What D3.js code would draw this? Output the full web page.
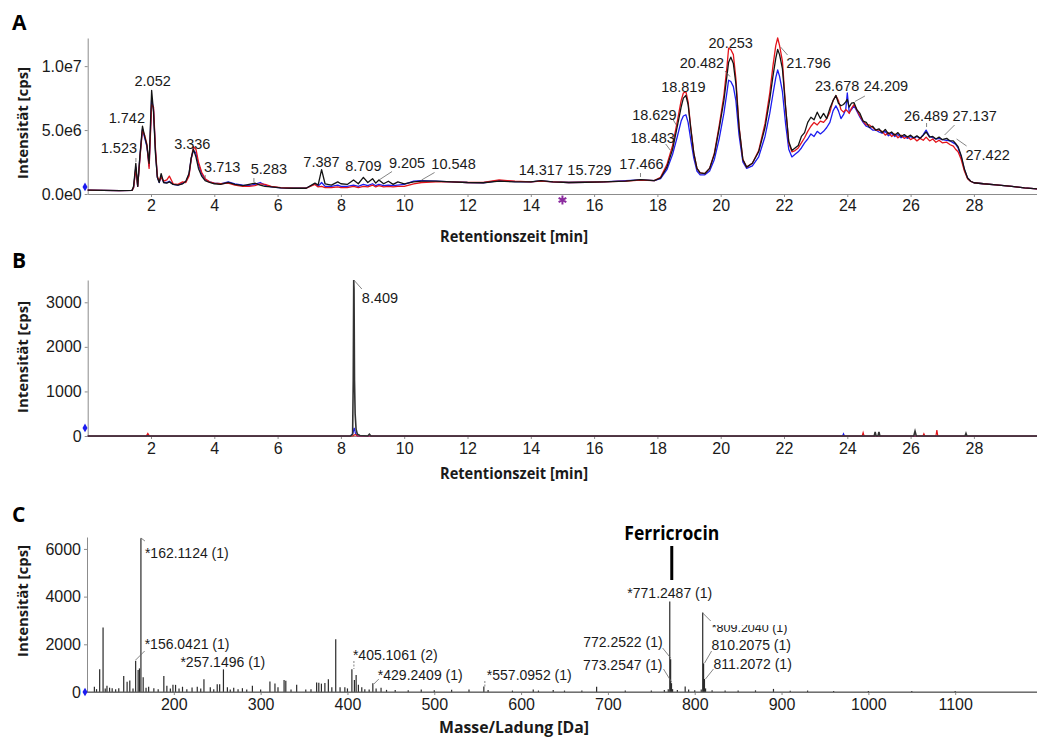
<!DOCTYPE html>
<html><head><meta charset="utf-8">
<script src="https://cdn.jsdelivr.net/npm/d3@7"></script>
<style>body{margin:0;background:#fff} svg{display:block}</style>
</head><body>
<svg id="c" width="1037" height="739"></svg>
<script>
// ---------------- DATA ----------------
// Panel A: total ion chromatogram, intensities in units of 1e6 cps
const aTime = [
0, 0.5, 1.0, 1.4, 1.45, 1.52, 1.58, 1.65, 1.73, 1.8, 1.87, 1.94,
2.02, 2.08, 2.14, 2.2, 2.26, 2.32, 2.4, 2.5, 2.58, 2.7, 2.85, 3.0,
3.1, 3.2, 3.27, 3.34, 3.42, 3.5, 3.6, 3.71, 3.85, 4.0, 4.2,
4.44, 4.65, 4.9, 5.1, 5.28, 5.45, 5.6, 5.8, 6.1, 6.5, 6.9,
7.18, 7.28, 7.39, 7.5, 7.7, 7.9, 8.0, 8.2, 8.4, 8.55,
8.71, 8.85, 9.0, 9.1, 9.2, 9.35, 9.5, 9.65, 9.8, 10.0, 10.3, 10.55,
11.0, 11.5, 12.0, 12.5, 13.0, 13.5, 14.0, 14.32, 14.7, 15.2, 15.73, 16.3, 17.0, 17.47, 17.9,
18.1, 18.3, 18.48, 18.63, 18.75, 18.82, 18.9, 18.97, 19.05, 19.15, 19.25, 19.35,
19.5, 19.65, 19.8, 19.95, 20.1, 20.2, 20.25, 20.32, 20.4, 20.48, 20.58, 20.7, 20.82,
21.0, 21.2, 21.4, 21.55, 21.65, 21.74, 21.8, 21.86, 21.95, 22.05,
22.15, 22.25, 22.35, 22.45, 22.55, 22.65, 22.75, 22.85, 22.95, 23.05, 23.15,
23.25, 23.35, 23.45, 23.55, 23.64, 23.72, 23.8, 23.88, 23.95, 24.0,
24.06, 24.13, 24.21, 24.3, 24.4, 24.5, 24.6, 24.7, 24.8, 24.9, 25.0,
25.1, 25.2, 25.3, 25.4, 25.5, 25.6, 25.7, 25.8, 25.9, 26.0,
26.1, 26.2, 26.3, 26.4, 26.49, 26.6, 26.7, 26.8, 26.9, 27.0,
27.14, 27.25, 27.35, 27.42, 27.5, 27.6, 27.7, 27.8, 27.9, 28.0,
28.3, 28.7, 29.2, 29.6, 30.0
];
const aBlack = [
0.30, 0.28, 0.26, 0.28, 0.6, 2.4, 0.6, 3.0, 5.3, 4.5, 3.8, 2.4,
8.1, 6.4, 3.2, 1.3, 0.9, 1.6, 0.9, 0.85, 0.95, 0.75, 0.7, 0.8,
1.0, 1.6, 2.8, 3.5, 2.9, 2.0, 1.4, 1.05, 0.9, 0.8, 0.75,
0.9, 0.75, 0.65, 0.75, 0.85, 0.7, 0.6, 0.55, 0.48, 0.45, 0.45,
0.85, 0.7, 1.9, 0.8, 0.7, 0.95, 0.8, 0.75, 1.1, 0.8,
1.3, 0.9, 1.2, 0.85, 1.1, 0.8, 1.0, 0.75, 0.95, 0.8, 0.95, 1.0,
1.0, 0.95, 0.9, 0.88, 1.0, 0.95, 0.95, 1.05, 0.95, 0.9, 0.92, 0.95, 1.0, 1.12, 1.05,
1.25, 2.1, 3.5, 5.3, 6.8, 7.5, 7.7, 7.0, 5.2, 3.2, 2.0, 1.65,
1.6, 2.0, 3.1, 5.1, 7.3, 9.3, 10.3, 10.7, 10.2, 8.6, 5.2, 2.7, 2.1,
2.4, 3.3, 5.2, 7.4, 9.2, 10.6, 11.3, 10.9, 9.8, 6.8,
4.1, 3.4, 3.6, 3.8, 4.5, 4.8, 5.6, 6.0, 5.8, 6.4, 5.9,
6.3, 5.9, 6.7, 7.3, 7.7, 7.1, 6.9, 7.0, 7.2, 7.4,
6.8, 7.1, 7.15, 6.6, 6.3, 5.7, 5.6, 5.2, 5.3, 5.0, 5.1,
4.8, 5.05, 4.7, 4.85, 4.6, 4.8, 4.5, 4.65, 4.45, 4.6,
4.4, 4.55, 4.35, 4.6, 4.85, 4.45, 4.5, 4.3, 4.45, 4.25,
4.35, 4.15, 4.15, 3.95, 3.7, 3.0, 1.95, 1.25, 1.0, 0.88,
0.8, 0.72, 0.6, 0.48, 0.4
];
const aRed = [
0.30, 0.28, 0.26, 0.28, 0.5, 2.0, 0.6, 2.8, 5.0, 4.6, 3.9, 2.0,
7.0, 6.8, 3.6, 1.4, 1.0, 1.3, 1.0, 1.1, 1.4, 0.8, 0.75, 0.95,
0.9, 1.4, 2.7, 3.7, 3.5, 2.5, 1.7, 1.2, 0.95, 0.85, 0.8,
0.85, 0.7, 0.6, 0.6, 0.65, 0.8, 0.75, 0.6, 0.5, 0.45, 0.45,
0.75, 0.55, 0.6, 0.5, 0.5, 0.55, 0.5, 0.5, 0.6, 0.5,
0.6, 0.55, 0.7, 0.55, 0.65, 0.55, 0.6, 0.55, 0.6, 0.6, 0.8, 0.9,
0.95, 0.95, 0.9, 0.9, 1.1, 1.0, 0.95, 1.0, 0.95, 0.9, 0.92, 0.95, 1.0, 1.08, 1.05,
1.3, 2.3, 3.8, 5.7, 7.3, 7.9, 8.0, 7.2, 5.3, 3.2, 2.0, 1.65,
1.6, 2.0, 3.2, 5.3, 7.7, 10.0, 11.4, 11.3, 10.9, 9.0, 5.3, 2.7, 2.1,
2.4, 3.4, 5.5, 7.9, 10.0, 11.6, 12.2, 11.6, 10.4, 6.8,
4.0, 3.3, 3.4, 3.6, 4.0, 4.4, 4.9, 5.3, 5.6, 5.4, 5.7,
5.6, 5.9, 6.4, 7.3, 7.7, 7.3, 6.6, 6.4, 6.6, 6.5,
6.3, 6.7, 7.0, 6.6, 6.1, 5.7, 5.4, 5.4, 5.2, 5.0, 5.0,
4.9, 4.6, 4.8, 4.5, 4.7, 4.4, 4.6, 4.35, 4.5, 4.25,
4.4, 4.15, 4.35, 4.2, 4.45, 4.15, 4.3, 4.05, 4.2, 4.0,
4.05, 3.85, 3.75, 3.5, 3.3, 2.7, 1.8, 1.2, 0.98, 0.88,
0.8, 0.72, 0.6, 0.48, 0.4
];
const aBlue = [
0.30, 0.28, 0.26, 0.28, 0.5, 2.1, 0.6, 2.9, 5.1, 4.4, 3.7, 2.2,
7.4, 6.6, 3.4, 1.3, 0.9, 1.4, 0.9, 0.9, 1.0, 0.75, 0.7, 0.85,
0.95, 1.5, 2.8, 3.4, 3.2, 2.3, 1.6, 1.15, 0.95, 0.85, 0.8,
0.95, 0.8, 0.7, 0.65, 0.75, 0.9, 0.7, 0.55, 0.48, 0.45, 0.45,
0.8, 0.6, 0.9, 0.6, 0.6, 0.7, 0.6, 0.6, 0.7, 0.6,
0.75, 0.65, 0.8, 0.65, 0.75, 0.65, 0.7, 0.65, 0.7, 0.75, 1.0, 1.05,
1.0, 0.95, 0.9, 0.88, 1.05, 0.97, 0.95, 1.02, 0.95, 0.9, 0.92, 0.95, 1.05, 1.1, 1.05,
1.2, 1.9, 3.1, 4.5, 5.7, 6.1, 6.2, 5.6, 4.3, 2.8, 1.8, 1.5,
1.5, 1.8, 2.7, 4.3, 6.3, 8.0, 8.9, 8.8, 8.4, 7.3, 4.6, 2.5, 2.0,
2.2, 2.9, 4.5, 6.3, 7.8, 9.1, 9.7, 9.2, 8.0, 5.5,
3.5, 2.9, 3.1, 3.3, 3.6, 4.0, 4.3, 4.7, 4.5, 4.9, 4.7,
4.9, 5.2, 5.6, 6.5, 6.9, 6.5, 5.9, 6.2, 6.6, 7.9,
6.4, 6.6, 6.9, 6.5, 6.0, 5.6, 5.3, 5.2, 5.0, 5.0, 4.85,
4.75, 4.9, 4.55, 4.75, 4.5, 4.65, 4.4, 4.55, 4.35, 4.5,
4.35, 4.5, 4.35, 4.65, 5.0, 4.5, 4.4, 4.3, 4.35, 4.25,
4.2, 4.15, 4.0, 3.9, 3.6, 2.9, 1.9, 1.25, 1.0, 0.88,
0.8, 0.72, 0.6, 0.48, 0.4
];
const aPeakLabels = ["1.523","1.742","2.052","3.336","3.713","5.283","7.387","8.709","9.205","10.548",
  "14.317","15.729","17.466","18.483","18.629","18.819","20.253","20.482","21.796","23.678","24.209",
  "26.489","27.137","27.422"];
const aYTickValues = [0, 5, 10];
const aYTickLabels = ["0.0e0", "5.0e6", "1.0e7"];
const timeTicks = [2,4,6,8,10,12,14,16,18,20,22,24,26,28];

// Panel B: extracted ion chromatogram (cps)
const bBlackT = [0, 8.3, 8.37, 8.39, 8.405, 8.415, 8.43, 8.45, 8.48, 8.52, 8.6, 8.85, 8.9, 8.95, 24.85, 24.88, 24.91, 24.97, 25.0, 25.03, 26.1, 26.14, 26.18, 27.72, 27.75, 27.78, 30];
const bBlackV = [0, 0, 30, 1250, 3500, 3300, 1250, 500, 150, 40, 10, 0, 40, 0, 0, 90, 0, 0, 90, 0, 0, 110, 0, 0, 60, 0, 0];
const bBlueT = [0, 1.85, 1.9, 1.95, 8.3, 8.38, 8.42, 8.46, 8.52, 23.85, 23.88, 23.91, 30];
const bBlueV = [0, 0, 20, 0, 0, 60, 180, 60, 0, 0, 50, 0, 0];
const bRedT = [0, 1.85, 1.9, 1.95, 8.38, 8.45, 8.52, 24.47, 24.5, 24.53, 26.39, 26.42, 26.45, 26.8, 26.83, 26.86, 30];
const bRedV = [0, 0, 60, 0, 0, 35, 0, 0, 75, 0, 0, 50, 0, 0, 130, 0, 0];
const bPeakLabels = ["8.409"];
const bYTicks = [0, 1000, 2000, 3000];

// Panel C: mass spectrum (m/z, cps)
const cMz = [108.5,111,114.6,118.5,121,123,126,129,133,136.6,142.3,146.2,149.3,153,156.04,158.9,160.4,162.11,164.7,168,
171,177,182,188.5,192,196,199,202,206,210,215,221,227,231,234.7,242,246,250,252.8,257.15,
261.7,265,269,274,279,284,290.5,300,310.7,316.5,320,327,329,335,341.5,352,358,364.5,367,370,
374,378,382,386.5,391.5,397,400,405.11,408,410,412.6,416.5,420,425,429.24,433,438.7,445,455,470,
485,500,520,540,557.1,562,590,614,620,637,650,670,687,720,750,765,769.5,771.25,772.25,773.25,
774.5,780,789,793,800,807.5,809.2,810.21,811.21,812.5,820,835,850,870,890.7,910,930,960,1000,1050,1100];
const cInt = [220,120,950,2700,150,260,180,160,120,160,670,430,480,150,1310,920,990,6450,620,180,
220,160,120,670,260,150,300,300,150,220,120,190,220,150,530,200,120,330,330,950,
200,110,180,120,160,100,260,100,440,360,200,500,470,100,300,100,120,400,390,350,
380,530,200,2210,200,200,150,950,500,710,300,200,120,100,370,150,180,90,80,70,
110,70,90,110,230,80,60,100,60,80,60,60,220,60,60,80,120,3790,1370,370,
120,80,230,110,70,100,3330,1200,545,150,70,60,60,70,130,50,60,40,40,40,40];
const cPeakLabels = ["*162.1124 (1)","*156.0421 (1)","*257.1496 (1)","*405.1061 (2)","*429.2409 (1)","*557.0952 (1)",
  "*771.2487 (1)","772.2522 (1)","773.2547 (1)","*809.2040 (1)","810.2075 (1)","811.2072 (1)"];
const cPeakMz = [162.11,156.04,257.15,405.11,429.24,557.1,771.25,772.25,773.25,809.2,810.21,811.21];
const cXTicks = [200,300,400,500,600,700,800,900,1000,1100];
const cYTicks = [0,2000,4000,6000];

// ---------------- LAYOUT / STYLE ----------------
const svg = d3.select("#c");
const NUM = "'Liberation Sans', Arial, sans-serif";
const BOLD = "'Open Sans', 'Liberation Sans', sans-serif";
const COL = {black:"#141414", red:"#e3141b", blue:"#1c1cf0", axis:"#8c8c8c", text:"#1a1a1a", leader:"#666"};
const intFmt = d3.format("d");

// scales
const xA = d3.scaleLinear().domain([0,30]).range([87.7, 1037.2]);
const yA = d3.scaleLinear().domain([0,12.2]).range([194, 38]);
const yB = d3.scaleLinear().domain([0,3500]).range([436, 280]);
const xC = d3.scaleLinear().domain([100,1200]).range([87, 1042]);
const yC = d3.scaleLinear().domain([0,6500]).range([692, 537]);

function styleAxis(g) {
  g.select(".domain").attr("stroke", COL.axis).attr("stroke-width", 1);
  g.selectAll(".tick line").attr("stroke", COL.axis);
  g.selectAll(".tick text").attr("fill", COL.text).style("font-family", NUM).style("font-size", "16px");
}
function yTitle(cy, txt) {
  svg.append("text").attr("transform", `translate(23,${cy}) rotate(-90)`)
    .attr("text-anchor","middle").attr("dy","0.35em")
    .style("font-family", BOLD).style("font-weight","700").style("font-size","14.5px")
    .attr("textLength", 112).attr("lengthAdjust","spacingAndGlyphs")
    .attr("fill", COL.text).text(txt);
}
function xTitle(cy, txt, len) {
  svg.append("text").attr("x", 514).attr("y", cy).attr("dy","0.35em").attr("text-anchor","middle")
    .style("font-family", BOLD).style("font-weight","700").style("font-size","16px")
    .attr("textLength", len).attr("lengthAdjust","spacingAndGlyphs")
    .attr("fill", COL.text).text(txt);
}
function panelLetter(y, t) {
  svg.append("text").attr("x", 12).attr("y", y).style("font-family", BOLD).style("font-weight","700")
    .style("font-size","21px").attr("fill","#000").text(t);
}
function diamond(x, y) {
  svg.append("path").attr("d", d3.symbol(d3.symbolDiamond, 22)()).attr("transform",`translate(${x},${y})`)
    .attr("fill", COL.blue);
}
function label(x, y, txt, anchor, size) {
  return svg.append("text").attr("x", x).attr("y", y).attr("dy","0.35em").attr("text-anchor", anchor || "middle")
    .style("font-family", NUM).style("font-size", (size||14.5)+"px").attr("fill", COL.text).text(txt);
}
function leader(x1,y1,x2,y2,dash) {
  const l = svg.append("line").attr("x1",x1).attr("y1",y1).attr("x2",x2).attr("y2",y2)
    .attr("stroke", COL.leader).attr("stroke-width", 0.8);
  if (dash) l.attr("stroke-dasharray","2,1.5");
}

// ---------------- PANEL A ----------------
panelLetter(30, "A");
svg.append("g").attr("transform","translate(0,194)")
  .call(d3.axisBottom(xA).tickValues(timeTicks).tickSize(3).tickPadding(3).tickSizeOuter(0))
  .call(g => styleAxis(g));
svg.append("g").attr("transform","translate(87.7,0)")
  .call(d3.axisLeft(yA).tickValues(aYTickValues).tickFormat((d,i)=>aYTickLabels[i]).tickSize(3).tickPadding(3).tickSizeOuter(0))
  .call(g => styleAxis(g));
const lineA = (vals) => d3.line().x((d,i)=>xA(aTime[i])).y(d=>yA(d))(vals);
[[aBlue, COL.blue],[aRed, COL.red],[aBlack, COL.black]].forEach(([v,c]) => {
  svg.append("path").attr("d", lineA(v)).attr("fill","none").attr("stroke", c)
    .attr("stroke-width", 1.3).attr("stroke-linejoin","round");
});
// label layout: [dx from peak x, label center y, leader segment [dx1,y1,dx2,y2] or null]
const aLabelLayout = [
  [-17,148,[0,158,0,162]], [-16,118,null], [0,81,null], [-1,144,null], [17,167,[0,175,0,178]],
  [14,169,[-1,178,-1,182]], [0,162,null], [0,166,null], [28,163,[0,180,13,171.5]], [32,164,[0,180,13,172.5]],
  [0,170,null], [4,170,null], [1,164,[0,173,0,177]], [-20,138,[-2.5,150,-7,144]], [-23,115,[-1,125,-4,120]],
  [0,87,null], [2,43,null], [-34,63,[-6,76.5,-11,71]], [31,63,[3,47,10,55]], [0,86,null],
  [32,86,[1,101.5,11,96]], [0,116,[0.5,123,0.5,127]], [28,116,[-2,135,8,125]], [32,155,[1,139,11,146]]
];
aPeakLabels.forEach((t,i) => {
  const [dx, cy, ld] = aLabelLayout[i];
  const px = xA(+t);
  if (ld) leader(px+ld[0], ld[1], px+ld[2], ld[3]);
  label(px+dx, cy, t);
});
xTitle(236, "Retentionszeit [min]", 148);
yTitle(123, "Intensität [cps]");
diamond(85, yA(0.55));
svg.append("path").attr("d", d3.symbol(d3.symbolAsterisk, 55)()).attr("transform",`translate(${xA(15)},200)`)
  .attr("fill","none").attr("stroke","#8a2a9e").attr("stroke-width",2);

// ---------------- PANEL B ----------------
panelLetter(268, "B");
svg.append("g").attr("transform","translate(0,436)")
  .call(d3.axisBottom(xA).tickValues(timeTicks).tickSize(3).tickPadding(4).tickSizeOuter(0))
  .call(g => styleAxis(g));
svg.append("g").attr("transform","translate(87.7,0)")
  .call(d3.axisLeft(yB).tickValues(bYTicks).tickFormat(intFmt).tickSize(3).tickPadding(3).tickSizeOuter(0))
  .call(g => styleAxis(g));
const lineB = (T,V) => d3.line().x((d,i)=>xA(T[i])).y(d=>yB(d))(V);
[[bBlueT,bBlueV,COL.blue,1.2],[bRedT,bRedV,COL.red,1.2],[bBlackT,bBlackV,"#333",1.6]].forEach(([T,V,c,w]) => {
  svg.append("path").attr("d", lineB(T,V)).attr("fill","none").attr("stroke", c).attr("stroke-width", w);
});
{
  const px = xA(+bPeakLabels[0]);
  leader(px, yB(3500), px+8, 289);
  label(px+8, 298, bPeakLabels[0], "start");
}
xTitle(473, "Retentionszeit [min]", 148);
yTitle(357, "Intensität [cps]");
diamond(85, yB(180));

// ---------------- PANEL C ----------------
panelLetter(522, "C");
svg.append("g").attr("transform","translate(0,692)")
  .call(d3.axisBottom(xC).tickValues(cXTicks).tickFormat(intFmt).tickSize(3).tickPadding(4).tickSizeOuter(0))
  .call(g => styleAxis(g));
svg.append("g").attr("transform","translate(87,0)")
  .call(d3.axisLeft(yC).tickValues(cYTicks).tickFormat(intFmt).tickSize(3).tickPadding(3).tickSizeOuter(0))
  .call(g => styleAxis(g));
svg.append("g").selectAll("line").data(cMz).join("line")
  .attr("x1", d=>xC(d)).attr("x2", d=>xC(d))
  .attr("y1", yC(0)).attr("y2", (d,i)=>yC(cInt[i]))
  .attr("stroke", "#2a2a2a").attr("stroke-width", 1.2);
svg.append("line").attr("x1",87).attr("x2",1037).attr("y1",yC(0)).attr("y2",yC(0)).attr("stroke","#555").attr("stroke-width",1);
// label layout: [dx from peak x, center y, anchor, leader [dx1,y1,dx2,y2,dashed] or null, fontsize]
const cLabelLayout = [
  [4,553,"start",[0,538,4,541,false],14],
  [9,644,"start",[0,660,9,651,false],14],
  [-43,662,"start",null,14],
  [1,655,"start",[2,661,2,669,true],14],
  [5,675,"start",[1,684,6,679,false],14],
  [3,675,"start",[1,681,1,688,true],14],
  [0,593,"middle",null,14],
  [-8,642,"end",[-8,648,0,658,false],14],
  [-9,665,"end",[-8,669,0,682,false],14],
  [9,628,"start",[0,613,8,621,false],12.5],
  [8,645,"start",[8,651,1,663,false],14],
  [9,664,"start",[9,669,1,679,false],14]
];
svg.append("clipPath").attr("id","clip809").append("rect").attr("x",700).attr("y",625).attr("width",120).attr("height",20);
cPeakLabels.forEach((t,i) => {
  const [dx, cy, anc, ld, fs] = cLabelLayout[i];
  const px = xC(cPeakMz[i]);
  if (ld) leader(px+ld[0], ld[1], px+ld[2], ld[3], ld[4]);
  const el = label(px+dx, cy, t, anc, fs);
  if (i === 9) el.attr("clip-path","url(#clip809)");
});
// Ferricrocin annotation
svg.append("text").attr("x", xC(771.25)+2).attr("y", 533).attr("dy","0.35em").attr("text-anchor","middle")
  .style("font-family", BOLD).style("font-weight","700").style("font-size","19px")
  .attr("textLength", 95).attr("lengthAdjust","spacingAndGlyphs").attr("fill","#000").text("Ferricrocin");
svg.append("line").attr("x1", xC(771.25)+2).attr("x2", xC(771.25)+2).attr("y1",546).attr("y2",580)
  .attr("stroke","#000").attr("stroke-width",3);
xTitle(727, "Masse/Ladung [Da]", 150);
yTitle(601, "Intensität [cps]");
diamond(85, yC(0));
</script></body></html>
